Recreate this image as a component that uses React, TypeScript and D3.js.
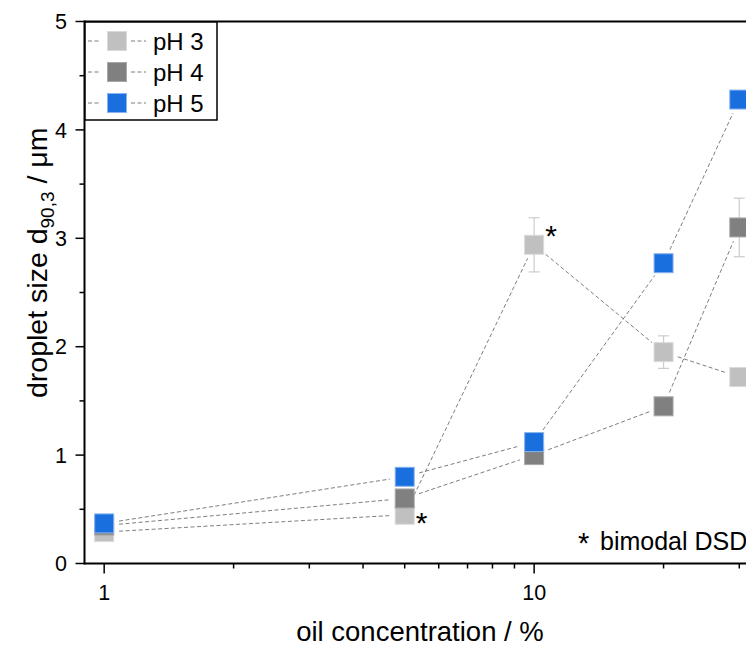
import React from 'react';
import * as d3 from 'd3';

const concentrations = [1, 5, 10, 20, 30];
const seriesNames = ['pH 3', 'pH 4', 'pH 5'];
const pH3 = [0.29, 0.45, 2.94, 1.95, 1.72];
const pH3Err = [0.02, 0.03, 0.25, 0.15, 0.06];
const pH4 = [0.35, 0.6, 1.0, 1.45, 3.1];
const pH4Err = [0.02, 0.03, 0.04, 0.05, 0.27];
const pH5 = [0.37, 0.8, 1.12, 2.77, 4.28];
const pH5Err = [0.02, 0.03, 0.05, 0.06, 0.08];
const yTicks = [0, 1, 2, 3, 4, 5];
const xMajor = [1, 10];
const bimodal = [
  { series: 0, index: 1 },
  { series: 0, index: 2 },
];

const colors = ['#c0c0c0', '#808080', '#1a6fdf'];
const strokes = ['#dadada', '#a8a8a8', '#8ab4ee'];
const font = 'Arial, "Liberation Sans", sans-serif';

const App = () => {
  const W = 746;
  const H = 646;
  const left = 84.5;
  const top = 21.5;
  const bottom = 563.5;

  const x = d3.scaleLog().domain([0.9, 31.1]).range([left, W]);
  const y = d3.scaleLinear().domain([0, 5]).range([bottom, top]);

  const all = [pH3, pH4, pH5];
  const errs = [pH3Err, pH4Err, pH5Err];

  // line segments with a gap around each symbol
  const gap = 15;
  const segs = (vals: number[]) => {
    const out: { x1: number; y1: number; x2: number; y2: number }[] = [];
    for (let i = 0; i < vals.length - 1; i++) {
      const ax = x(concentrations[i]);
      const ay = y(vals[i]);
      const bx = x(concentrations[i + 1]);
      const by = y(vals[i + 1]);
      const len = Math.hypot(bx - ax, by - ay);
      if (len <= gap * 2) continue;
      const ux = (bx - ax) / len;
      const uy = (by - ay) / len;
      out.push({ x1: ax + ux * gap, y1: ay + uy * gap, x2: bx - ux * gap, y2: by - uy * gap });
    }
    return out;
  };

  const minorY = d3.range(0.5, 5, 1);
  const minorX: number[] = [];
  [1, 10].forEach(d => {
    for (let k = 2; k <= 9; k++) {
      const v = d * k;
      if (v < 31.1) minorX.push(v);
    }
  });

  const sq = 19;

  return (
    <svg width={W} height={H} style={{ position: 'absolute', left: 0, top: 0, background: '#fff' }} fontFamily={font}>
      <rect x={0} y={0} width={W} height={H} fill="#fff" />

      {/* dashed connecting lines */}
      {all.map((vals, s) =>
        segs(vals).map((g, i) => (
          <line key={`l${s}-${i}`} x1={g.x1} y1={g.y1} x2={g.x2} y2={g.y2}
            stroke="#6e6e6e" strokeWidth={0.9} strokeDasharray="4,2.5" />
        ))
      )}

      {/* error bars + symbols */}
      {all.map((vals, s) => (
        <g key={`s${s}`}>
          {vals.map((v, i) => {
            const cx = x(concentrations[i]);
            const e = errs[s][i];
            return (
              <g key={i} stroke="#cccccc" strokeWidth={1.2}>
                <line x1={cx} x2={cx} y1={y(v + e)} y2={y(v - e)} />
                <line x1={cx - 5.5} x2={cx + 5.5} y1={y(v + e)} y2={y(v + e)} />
                <line x1={cx - 5.5} x2={cx + 5.5} y1={y(v - e)} y2={y(v - e)} />
              </g>
            );
          })}
          {vals.map((v, i) => (
            <rect key={`m${i}`} x={x(concentrations[i]) - sq / 2} y={y(v) - sq / 2} width={sq} height={sq}
              fill={colors[s]} stroke={strokes[s]} strokeWidth={1} />
          ))}
        </g>
      ))}

      {/* bimodal markers */}
      {bimodal.map((b, i) => {
        const cx = x(concentrations[b.index]);
        const cy = y(all[b.series][b.index]);
        const dy = b.index === 2 ? 1 : 18;
        return (
          <text key={`b${i}`} x={cx + 11} y={cy + dy} fontSize={30} fill="#000">*</text>
        );
      })}
      <text x={578} y={553} fontSize={29} fill="#000">*</text>
      <text x={600} y={550} fontSize={25} fill="#000">bimodal DSD</text>

      {/* frame / axes */}
      <line x1={left} x2={W} y1={top} y2={top} stroke="#000" strokeWidth={2} />
      <line x1={left} x2={W} y1={bottom} y2={bottom} stroke="#000" strokeWidth={2} />
      <line x1={left} x2={left} y1={top - 1} y2={bottom + 1} stroke="#000" strokeWidth={2} />

      {/* y ticks */}
      {yTicks.map(t => (
        <g key={`yt${t}`}>
          <line x1={left - 9} x2={left} y1={y(t)} y2={y(t)} stroke="#000" strokeWidth={1.5} />
          <text x={67} y={y(t)} dy="0.36em" textAnchor="end" fontSize={21.5}>{t}</text>
        </g>
      ))}
      {minorY.map(t => (
        <line key={`ym${t}`} x1={left - 5} x2={left} y1={y(t)} y2={y(t)} stroke="#000" strokeWidth={1.5} />
      ))}

      {/* x ticks */}
      {xMajor.map(t => (
        <g key={`xt${t}`}>
          <line x1={x(t)} x2={x(t)} y1={bottom} y2={bottom + 10} stroke="#000" strokeWidth={1.5} />
          <text x={x(t)} y={600} textAnchor="middle" fontSize={21.5}>{t}</text>
        </g>
      ))}
      {minorX.map(t => (
        <line key={`xm${t}`} x1={x(t)} x2={x(t)} y1={bottom} y2={bottom + 5} stroke="#000" strokeWidth={1.5} />
      ))}

      {/* axis titles */}
      <text x={420} y={641} textAnchor="middle" fontSize={27.5}>oil concentration / %</text>
      <text transform={`translate(47, 398) rotate(-90)`} textAnchor="start" fontSize={28.5}>
        droplet size d<tspan dy={7} fontSize={19}>90,3</tspan><tspan dy={-7}> / μm</tspan>
      </text>

      {/* legend */}
      <rect x={85} y={22} width={132} height={98} fill="#fff" stroke="#000" strokeWidth={1.5} />
      {seriesNames.map((n, i) => {
        const ly = 41 + i * 31;
        return (
          <g key={`lg${i}`}>
            <line x1={88} x2={101} y1={ly} y2={ly} stroke="#6e6e6e" strokeWidth={0.9} strokeDasharray="4,2.5" />
            <line x1={131} x2={146} y1={ly} y2={ly} stroke="#6e6e6e" strokeWidth={0.9} strokeDasharray="4,2.5" />
            <rect x={117 - sq / 2} y={ly - sq / 2} width={sq} height={sq} fill={colors[i]} stroke={strokes[i]} strokeWidth={1} />
            <text x={153} y={ly} dy="0.36em" fontSize={24}>{n}</text>
          </g>
        );
      })}
    </svg>
  );
};

export default App;
